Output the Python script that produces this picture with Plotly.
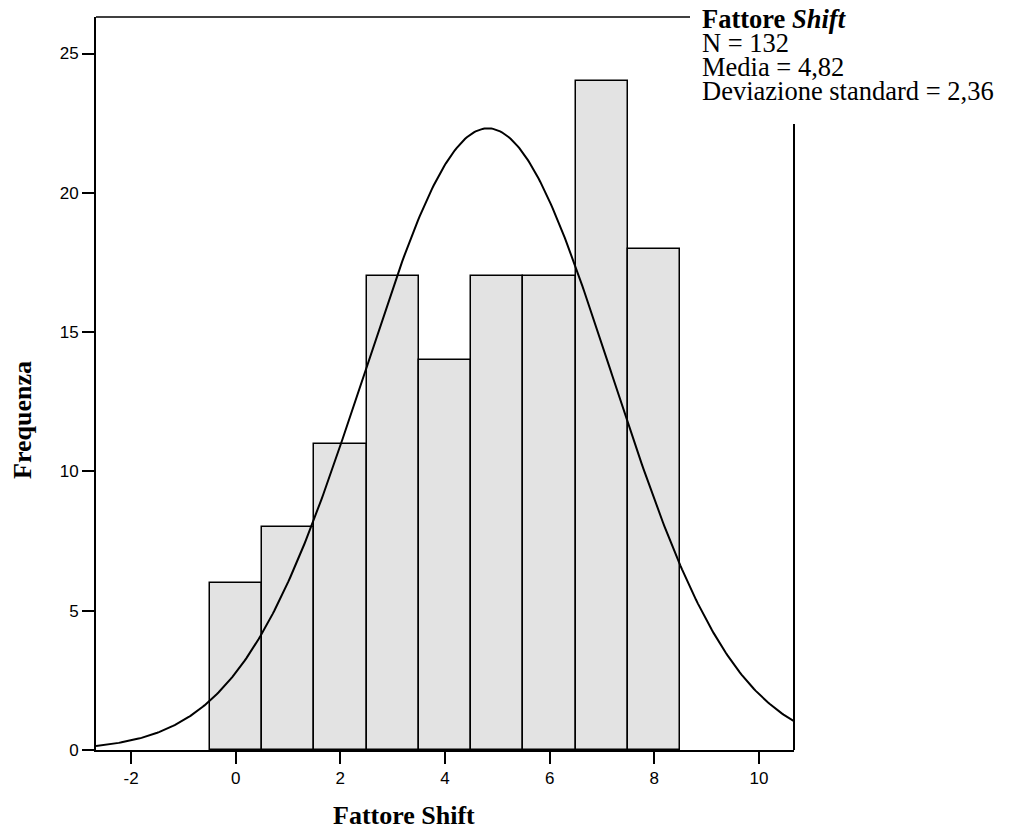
import numpy as np
import plotly.graph_objects as go

# ---- data ----
bin_centers = [0, 1, 2, 3, 4, 5, 6, 7, 8]
frequencies = [6, 8, 11, 17, 14, 17, 17, 24, 18]
n_obs = 132
mean_val = 4.82
sd_val = 2.36
bin_width = 1.0
x_ticks = [-2, 0, 2, 4, 6, 8, 10]
y_ticks = [0, 5, 10, 15, 20, 25]
stats_lines = ["<b>Fattore <i>Shift</i></b>", "N = 132", "Media = 4,82",
               "Deviazione standard = 2,36"]

X_RANGE = [-2.67, 10.67]
Y_RANGE = [0, 26.31]

W, H = 1010, 832
L, R, T, B = 96, 216, 17, 82
PW, PH = W - L - R, H - T - B

def px(xp):
    return (xp - L) / PW

def py(yp):
    return (H - B - yp) / PH

SERIF = "Liberation Serif, Times New Roman, serif"
SANS = "Liberation Sans, Arial, sans-serif"

# fitted normal curve from the stated N, mean and SD
xc = np.linspace(X_RANGE[0], X_RANGE[1], 400)
yc = n_obs * bin_width / (sd_val * np.sqrt(2 * np.pi)) * np.exp(-0.5 * ((xc - mean_val) / sd_val) ** 2)

fig = go.Figure()
fig.add_trace(go.Bar(
    x=bin_centers, y=frequencies, width=bin_width,
    marker=dict(color="#e3e3e3", line=dict(color="black", width=1.5)),
    showlegend=False, hoverinfo="skip"))
fig.add_trace(go.Scatter(
    x=xc, y=yc, mode="lines", line=dict(color="black", width=2),
    showlegend=False, hoverinfo="skip", cliponaxis=True))

fig.update_layout(
    width=W, height=H,
    margin=dict(l=L, r=R, t=T, b=B, pad=0),
    paper_bgcolor="white", plot_bgcolor="white",
    bargap=0,
    xaxis=dict(range=X_RANGE, tickvals=x_ticks, ticktext=[str(v) for v in x_ticks],
               showgrid=False, zeroline=False, showline=True, linecolor="black",
               linewidth=2, ticks="outside", ticklen=12, tickwidth=2, tickcolor="black",
               tickfont=dict(family=SANS, size=17, color="black")),
    yaxis=dict(range=Y_RANGE, tickvals=y_ticks, ticktext=[str(v) for v in y_ticks],
               showgrid=False, zeroline=False, showline=True, linecolor="black",
               linewidth=2, ticks="outside", ticklen=12, tickwidth=2, tickcolor="black",
               tickfont=dict(family=SANS, size=17, color="black")),
)

# frame: top line and right line (interrupted by stats text)
fig.add_shape(type="line", xref="paper", yref="paper", x0=0, x1=px(690), y0=1, y1=1,
              line=dict(color="black", width=1.5))
fig.add_shape(type="line", xref="paper", yref="paper", x0=1, x1=1, y0=0, y1=py(124),
              line=dict(color="black", width=2))

# stats block
centers = [19, 43, 67, 91]
for txt, cy in zip(stats_lines, centers):
    fig.add_annotation(text=txt, xref="paper", yref="paper", x=px(700), y=py(cy),
                       xanchor="left", yanchor="middle", showarrow=False,
                       font=dict(family=SERIF, size=26.5, color="black"))

# axis titles
fig.add_annotation(text="<b>Fattore Shift</b>", xref="paper", yref="paper",
                   x=px(404), y=py(815), xanchor="center", yanchor="middle",
                   showarrow=False, font=dict(family=SERIF, size=26, color="black"))
fig.add_annotation(text="<b>Frequenza</b>", xref="paper", yref="paper",
                   x=px(22), y=py(420), xanchor="center", yanchor="middle",
                   textangle=-90, showarrow=False,
                   font=dict(family=SERIF, size=26, color="black"))

fig.write_html("out.html")
